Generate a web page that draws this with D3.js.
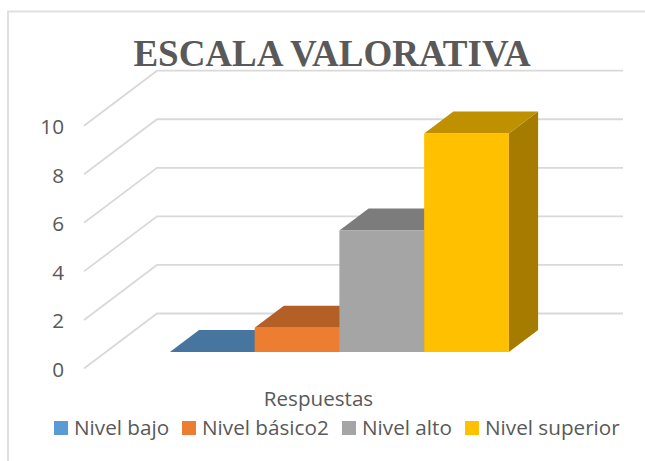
<!DOCTYPE html>
<html><head><meta charset="utf-8">
<script src="https://cdn.jsdelivr.net/npm/d3@7"></script>
<style>html,body{margin:0;padding:0;background:#fff}svg{display:block}</style>
</head><body><svg id="c" width="645" height="461"></svg>
<script>
const chartTitle = "ESCALA VALORATIVA";
const categoryLabel = "Respuestas";
const seriesNames = ["Nivel bajo", "Nivel básico2", "Nivel alto", "Nivel superior"];
const seriesValues = [0, 1, 5, 9];
const tickValues = [0, 2, 4, 6, 8, 10];
const frontColors = ["#5B9BD5", "#ED7D31", "#A5A5A5", "#FFC000"];
const topColors = ["#4675A0", "#B45F25", "#7C7C7C", "#BF9000"];
const sideColors = ["#3A6186", "#9A501F", "#686868", "#A67C00"];
const legendSwatchX = [54, 182, 342, 465];

const svg = d3.select("#c");
const y = d3.scaleLinear().domain([0, 10]).range([368.5, 125.7]);
const x = d3.scaleBand().domain(seriesNames).range([148, 487]).padding(0);
const depthX = 73, depthY = 55, floorLeft = 84, floorRight = 550;
const proj = (px, v, d) => [px + d * depthX, y(v) - d * depthY];
const poly = pts => pts.map(p => p.join(",")).join(" ");

// chart frame
svg.append("path").attr("d", "M8 461V11.5H645").attr("fill", "none").attr("stroke", "#E0E0E0").attr("stroke-width", 2);

// gridlines
const grid = svg.append("g").attr("fill", "none").attr("stroke", "#D9D9D9").attr("stroke-width", 1.8);
tickValues.forEach(t => {
  grid.append("polyline").attr("points", poly([proj(floorLeft, t, 0), proj(floorLeft, t, 1), proj(floorRight, t, 1)]));
});

// tick labels
svg.append("g").selectAll("text").data(tickValues).join("text")
  .attr("x", 64).attr("y", d => y(d) + 1).attr("dy", "0.36em").attr("text-anchor", "end")
  .attr("font-family", "'Open Sans'").attr("font-size", 20.7).attr("fill", "#595959").text(d => d);

// bars
const bars = svg.append("g");
seriesNames.forEach((name, i) => {
  const v = seriesValues[i], x0 = x(name), x1 = x0 + x.bandwidth();
  const d0 = 0.3, d1 = 0.7;
  bars.append("polygon").attr("fill", sideColors[i])
    .attr("points", poly([proj(x1, 0, d0), proj(x1, 0, d1), proj(x1, v, d1), proj(x1, v, d0)]));
  bars.append("polygon").attr("fill", topColors[i])
    .attr("points", poly([proj(x0, v, d0), proj(x1, v, d0), proj(x1, v, d1), proj(x0, v, d1)]));
  bars.append("polygon").attr("fill", frontColors[i])
    .attr("points", poly([proj(x0, 0, d0), proj(x1, 0, d0), proj(x1, v, d0), proj(x0, v, d0)]));
});

// title
svg.append("text").attr("x", 332).attr("y", 66).attr("text-anchor", "middle")
  .attr("font-family", "'Liberation Serif'").attr("font-weight", "bold").attr("font-size", 37)
  .attr("fill", "#595959").text(chartTitle);

// category label
svg.append("text").attr("x", 318.5).attr("y", 406).attr("text-anchor", "middle")
  .attr("font-family", "'Open Sans'").attr("font-size", 20.6).attr("fill", "#595959").text(categoryLabel);

// legend
const leg = svg.append("g").selectAll("g").data(seriesNames).join("g")
  .attr("transform", (d, i) => `translate(${legendSwatchX[i]},421)`);
leg.append("rect").attr("width", 14).attr("height", 14).attr("fill", (d, i) => frontColors[i]);
leg.append("text").attr("x", 20).attr("y", 14)
  .attr("font-family", "'Open Sans'").attr("font-size", 20.7).attr("fill", "#595959").text(d => d);
</script></body></html>
